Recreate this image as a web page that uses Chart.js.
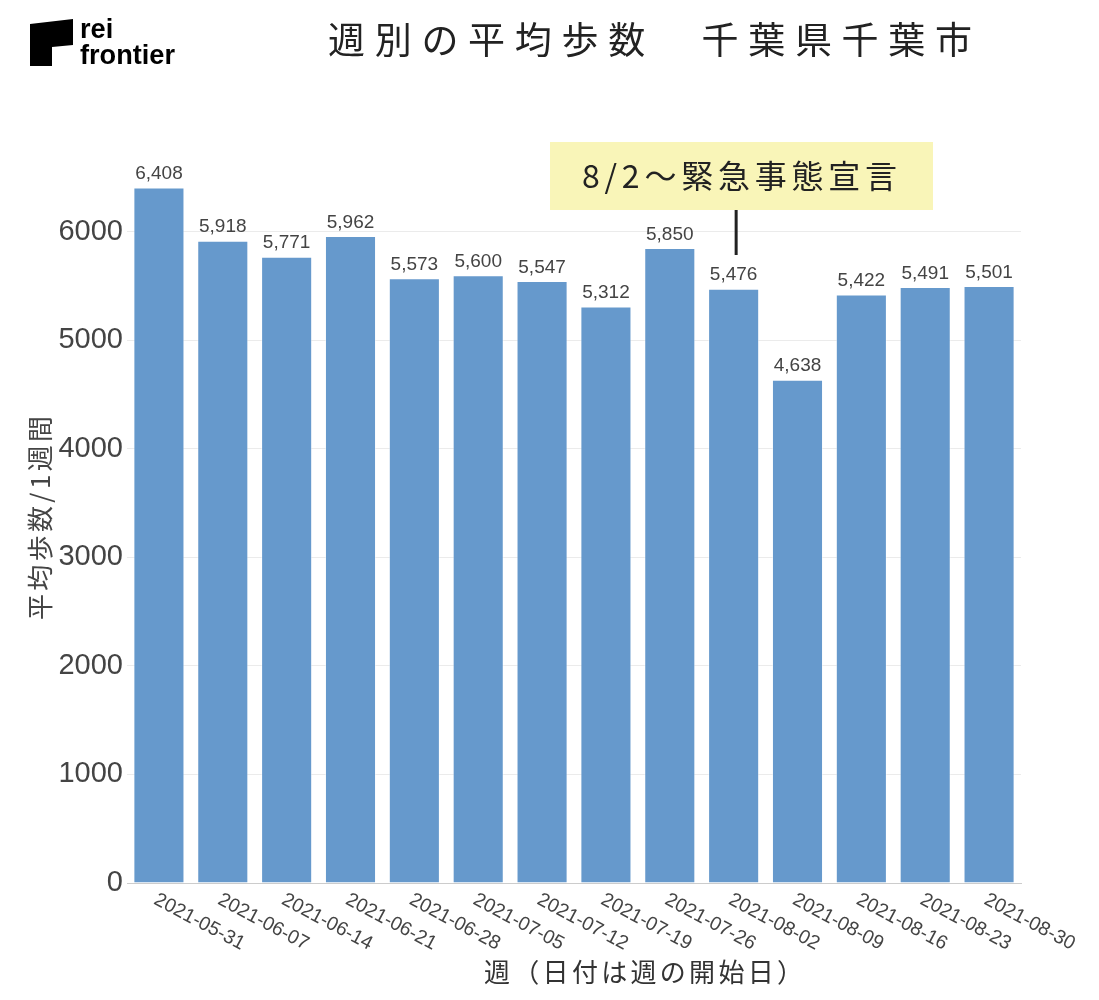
<!DOCTYPE html>
<html>
<head>
<meta charset="utf-8">
<script src="https://cdn.jsdelivr.net/npm/chart.js@4/dist/chart.umd.min.js"></script>
<style>
  html, body { margin: 0; padding: 0; background: #ffffff; }
  #wrap { width: 1099px; height: 1000px; }
</style>
</head>
<body>
<div id="wrap"><canvas id="c" width="1099" height="1000"></canvas></div>
<script>
// ---- data ----
const categories = ["2021-05-31","2021-06-07","2021-06-14","2021-06-21","2021-06-28","2021-07-05","2021-07-12","2021-07-19","2021-07-26","2021-08-02","2021-08-09","2021-08-16","2021-08-23","2021-08-30"];
const avgSteps = [6408, 5918, 5771, 5962, 5573, 5600, 5547, 5312, 5850, 5476, 4638, 5422, 5491, 5501];
const yTickValues = [0, 1000, 2000, 3000, 4000, 5000, 6000];
const titleText = "週別の平均歩数　千葉県千葉市";
const xTitleText = "週（日付は週の開始日）";
const yTitleText = "平均歩数/1週間";
const annotationText = "8/2〜緊急事態宣言";
const annotationCategory = "2021-08-02";

const CJK = '"Noto Sans CJK JP", "Noto Sans", sans-serif';
const LAT = '"Liberation Sans", Arial, sans-serif';

function drawSpacedFit(ctx, text, x0, x1, y) {
  const chars = Array.from(text);
  const widths = chars.map(c => ctx.measureText(c).width);
  const total = widths.reduce((a, b) => a + b, 0);
  const gap = chars.length > 1 ? ((x1 - x0) - total) / (chars.length - 1) : 0;
  let x = x0;
  ctx.textAlign = 'left';
  chars.forEach((c, i) => { ctx.fillText(c, x, y); x += widths[i] + gap; });
}

const decorPlugin = {
  id: 'decor',
  afterDraw(chart) {
    const ctx = chart.ctx;
    const xs = chart.scales.x;
    ctx.save();

    // logo
    ctx.fillStyle = '#000';
    ctx.beginPath();
    ctx.moveTo(30, 24); ctx.lineTo(73, 19); ctx.lineTo(73, 45);
    ctx.lineTo(52, 47); ctx.lineTo(52, 66); ctx.lineTo(30, 66);
    ctx.closePath(); ctx.fill();
    ctx.font = 'bold 27px ' + LAT;
    ctx.textBaseline = 'alphabetic';
    ctx.textAlign = 'left';
    const fw = ctx.measureText('frontier').width;
    const sx = 95 / fw;
    ctx.save(); ctx.translate(80, 38); ctx.scale(sx, 1); ctx.fillText('rei', 0, 0); ctx.restore();
    ctx.save(); ctx.translate(80, 64); ctx.scale(sx, 1); ctx.fillText('frontier', 0, 0); ctx.restore();

    // title
    ctx.fillStyle = '#222';
    ctx.font = '37px ' + CJK;
    ctx.textBaseline = 'middle';
    drawSpacedFit(ctx, titleText, 328, 972, 40);

    // data labels
    ctx.font = '19px ' + LAT;
    ctx.fillStyle = '#444';
    ctx.textAlign = 'center';
    ctx.textBaseline = 'bottom';
    const meta = chart.getDatasetMeta(0);
    meta.data.forEach((bar, i) => {
      ctx.fillText(avgSteps[i].toLocaleString('en-US'), bar.x, bar.y - 4);
    });

    // x tick labels rotated
    ctx.font = '19.5px ' + LAT;
    ctx.fillStyle = '#444';
    ctx.textAlign = 'left';
    ctx.textBaseline = 'top';
    categories.forEach((c, i) => {
      const px = xs.getPixelForValue(i);
      ctx.save();
      ctx.translate(px + 1, 890);
      ctx.rotate(28 * Math.PI / 180);
      ctx.fillText(c, 0, 0);
      ctx.restore();
    });

    // axis titles
    ctx.fillStyle = '#333';
    ctx.font = '26px ' + CJK;
    ctx.textBaseline = 'middle';
    drawSpacedFit(ctx, xTitleText, 484, 803, 972);

    ctx.save();
    ctx.translate(40, 620);
    ctx.rotate(-Math.PI / 2);
    ctx.font = '26px ' + CJK;
    ctx.fillStyle = '#444';
    drawSpacedFit(ctx, yTitleText, 0, 204, 0);
    ctx.restore();

    // annotation
    const ax = xs.getPixelForValue(categories.indexOf(annotationCategory)) + 2.5;
    ctx.fillStyle = '#f9f5b8';
    ctx.fillRect(550, 142, 383, 68);
    ctx.strokeStyle = '#222';
    ctx.lineWidth = 3;
    ctx.beginPath(); ctx.moveTo(ax, 210); ctx.lineTo(ax, 255); ctx.stroke();
    ctx.fillStyle = '#222';
    ctx.font = '32px ' + CJK;
    ctx.textBaseline = 'middle';
    drawSpacedFit(ctx, annotationText, 582, 897, 176);

    ctx.restore();
  }
};

new Chart(document.getElementById('c'), {
  type: 'bar',
  data: {
    labels: categories,
    datasets: [{
      data: avgSteps,
      backgroundColor: '#6699cc',
      borderColor: 'rgba(255,255,255,0.45)',
      borderWidth: 1,
      barPercentage: 0.8,
      categoryPercentage: 1.0
    }]
  },
  options: {
    responsive: false,
    animation: false,
    events: [],
    layout: { padding: { top: 145, right: 78, left: 0, bottom: 0 } },
    plugins: { legend: { display: false }, tooltip: { enabled: false }, title: { display: false } },
    scales: {
      x: {
        type: 'category',
        grid: { display: false },
        border: { display: true, color: '#cccccc', width: 1 },
        ticks: { display: false },
        afterFit: s => { s.height = 117; }
      },
      y: {
        min: 0,
        max: 6800,
        afterBuildTicks: s => { s.ticks = yTickValues.map(v => ({ value: v })); },
        ticks: {
          font: { family: LAT, size: 29 },
          color: '#444',
          padding: 4,
          callback: v => String(v)
        },
        grid: {
          color: ctx => (ctx.tick && ctx.tick.value === 0) ? '#cccccc' : '#ebebeb',
          drawTicks: false
        },
        border: { display: false },
        afterFit: s => { s.width = 127; }
      }
    }
  },
  plugins: [decorPlugin]
});
</script>
</body>
</html>
